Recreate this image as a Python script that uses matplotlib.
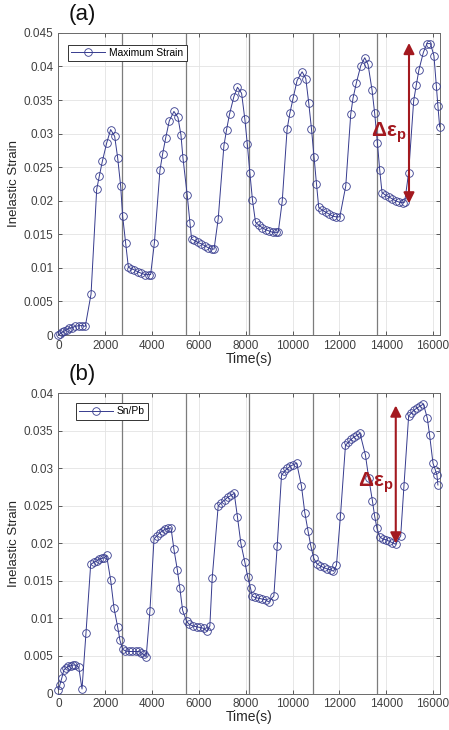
import matplotlib
matplotlib.use("Agg")
import matplotlib.pyplot as plt
from matplotlib.lines import Line2D
from matplotlib.ticker import FuncFormatter, MultipleLocator

plt.rcParams["font.family"] = ["Liberation Sans", "DejaVu Sans"]
plt.rcParams["mathtext.fontset"] = "custom"
plt.rcParams["mathtext.bf"] = "Liberation Sans:bold"

# (a) maximum strain
time_a = [0, 80, 160, 250, 350, 450, 580, 720, 870, 1020, 1150, 1395, 1637, 1750, 1880,
          2063, 2233, 2404, 2532, 2660, 2745, 2873, 2990, 3100, 3250, 3400, 3550, 3700,
          3850, 3940, 4100, 4340, 4454, 4580, 4737, 4936, 5107, 5235, 5320, 5504, 5620,
          5690, 5800, 5950, 6100, 6250, 6400, 6550, 6650, 6826, 7070, 7185, 7310, 7496,
          7650, 7825, 7966, 8070, 8180, 8290, 8420, 8550, 8700, 8850, 9000, 9150, 9300,
          9390, 9560, 9770, 9885, 10027, 10196, 10410, 10567, 10695, 10810, 10920, 11024,
          11120, 11270, 11420, 11570, 11720, 11870, 12020, 12274, 12487, 12586, 12730,
          12914, 13085, 13225, 13396, 13510, 13626, 13724, 13823, 13950, 14100, 14250,
          14400, 14550, 14700, 14790, 14960, 15175, 15290, 15400, 15590, 15743, 15890,
          16040, 16143, 16210, 16285]
strain_a = [0.0000, 0.0002, 0.0004, 0.0006, 0.0008, 0.0010, 0.0011, 0.0013, 0.0014, 0.0014,
            0.0013, 0.0061, 0.0217, 0.0237, 0.0259, 0.0286, 0.0306, 0.0296, 0.0264, 0.0222,
            0.0177, 0.0137, 0.0101, 0.0099, 0.0097, 0.0094, 0.0092, 0.0090, 0.0090, 0.0090,
            0.0137, 0.0246, 0.0270, 0.0293, 0.0319, 0.0333, 0.0324, 0.0298, 0.0264, 0.0208,
            0.0167, 0.0143, 0.0141, 0.0138, 0.0136, 0.0133, 0.0130, 0.0128, 0.0128, 0.0173,
            0.0282, 0.0306, 0.0329, 0.0355, 0.0369, 0.0360, 0.0321, 0.0284, 0.0241, 0.0201,
            0.0168, 0.0164, 0.0160, 0.0157, 0.0155, 0.0153, 0.0153, 0.0153, 0.0199, 0.0307,
            0.0330, 0.0353, 0.0379, 0.0392, 0.0382, 0.0345, 0.0307, 0.0265, 0.0225, 0.0190,
            0.0186, 0.0183, 0.0180, 0.0177, 0.0176, 0.0176, 0.0222, 0.0329, 0.0353, 0.0376,
            0.0401, 0.0413, 0.0403, 0.0365, 0.0330, 0.0286, 0.0246, 0.0212, 0.0209, 0.0206,
            0.0203, 0.0200, 0.0198, 0.0197, 0.0198, 0.0242, 0.0349, 0.0373, 0.0395, 0.0421,
            0.0434, 0.0434, 0.0416, 0.0371, 0.0341, 0.0310]

# (b) Sn/Pb
time_b = [0, 60, 150, 230, 320, 420, 520, 620, 720, 870, 1010, 1180, 1380, 1520, 1650,
          1750, 1850, 1950, 2060, 2234, 2376, 2530, 2630, 2740, 2850, 3000, 3150, 3300,
          3450, 3550, 3650, 3750, 3910, 4085, 4200, 4330, 4450, 4570, 4700, 4810, 4936,
          5080, 5190, 5306, 5477, 5600, 5750, 5900, 6050, 6200, 6350, 6470, 6570, 6826,
          6950, 7100, 7250, 7380, 7510, 7650, 7795, 7965, 8090, 8210, 8280, 8400, 8550,
          8700, 8850, 8980, 9203, 9345, 9530, 9650, 9780, 9900, 10030, 10180, 10380,
          10525, 10667, 10780, 10910, 11040, 11180, 11330, 11480, 11630, 11750, 11877,
          12048, 12262, 12390, 12510, 12630, 12750, 12880, 13114, 13255, 13412, 13510,
          13610, 13725, 13850, 13990, 14130, 14270, 14400, 14620, 14760, 14960, 15080,
          15200, 15330, 15450, 15590, 15758, 15857, 16000, 16100, 16170, 16210]
strain_b = [0.0005, 0.0011, 0.0021, 0.0031, 0.0034, 0.0036, 0.0037, 0.0038, 0.0038, 0.0035,
            0.0006, 0.0081, 0.0172, 0.0175, 0.0177, 0.0179, 0.0180, 0.0181, 0.0184, 0.0151,
            0.0114, 0.0089, 0.0071, 0.0059, 0.0057, 0.0056, 0.0056, 0.0056, 0.0056, 0.0054,
            0.0052, 0.0049, 0.0110, 0.0206, 0.0210, 0.0214, 0.0217, 0.0219, 0.0220, 0.0221,
            0.0192, 0.0165, 0.0140, 0.0111, 0.0096, 0.0092, 0.0090, 0.0089, 0.0088, 0.0087,
            0.0083, 0.0090, 0.0154, 0.0250, 0.0254, 0.0258, 0.0262, 0.0264, 0.0267, 0.0235,
            0.0200, 0.0175, 0.0155, 0.0140, 0.0130, 0.0128, 0.0127, 0.0126, 0.0125, 0.0122,
            0.0130, 0.0196, 0.0291, 0.0296, 0.0300, 0.0303, 0.0305, 0.0307, 0.0277, 0.0241,
            0.0216, 0.0197, 0.0180, 0.0173, 0.0170, 0.0168, 0.0166, 0.0165, 0.0163, 0.0171,
            0.0237, 0.0331, 0.0335, 0.0339, 0.0342, 0.0344, 0.0347, 0.0318, 0.0287, 0.0257,
            0.0236, 0.0220, 0.0209, 0.0206, 0.0205, 0.0203, 0.0201, 0.0199, 0.0210, 0.0277,
            0.0370, 0.0374, 0.0378, 0.0381, 0.0383, 0.0386, 0.0367, 0.0344, 0.0307, 0.0298,
            0.0291, 0.0278]

cycle_lines = [2720, 5440, 8160, 10880, 13600]

panels = [
    {"tag": "(a)", "t": time_a, "v": strain_a, "label": "Maximum Strain", "ymax": 0.045,
     "rect": [0.130, 0.541, 0.850, 0.414], "leg": (0.026, 0.960),
     "arrow": (14975, 0.0196, 0.0435), "dtext": (14870, 0.0296)},
    {"tag": "(b)", "t": time_b, "v": strain_b, "label": "Sn/Pb", "ymax": 0.04,
     "rect": [0.130, 0.050, 0.850, 0.411], "leg": (0.045, 0.967),
     "arrow": (14410, 0.0200, 0.0384), "dtext": (14320, 0.0276)},
]

LINE = "#363b8e"
RED = "#a3191f"
TICK = "#404040"

fig = plt.figure(figsize=(4.49, 7.30), dpi=100)

for p in panels:
    ax = fig.add_axes(p["rect"])
    ax.set_xlim(0, 16300)
    ax.set_ylim(0, p["ymax"])
    ax.xaxis.set_major_locator(MultipleLocator(2000))
    ax.yaxis.set_major_locator(MultipleLocator(0.005))
    ax.yaxis.set_major_formatter(FuncFormatter(lambda v, _: f"{v:g}"))
    ax.grid(True, color="#e3e3e3", linewidth=0.6)
    ax.set_axisbelow(True)
    for x in cycle_lines:
        ax.axvline(x, color="#7c7c7c", linewidth=0.9, zorder=1)

    ax.plot(p["t"], p["v"], color=LINE, linewidth=0.7, marker="o", markersize=5.5,
            markerfacecolor="none", markeredgecolor=LINE, markeredgewidth=0.6, zorder=3,
            clip_on=False)

    ax.tick_params(direction="in", top=True, right=True, labelsize=8.5, colors=TICK,
                   length=3, width=0.6)
    for s in ax.spines.values():
        s.set_color("#6a6a6a")
        s.set_linewidth(0.7)
    ax.set_ylabel("Inelastic Strain", fontsize=9.5, color="#262626", labelpad=3)
    ax.set_xlabel("Time(s)", fontsize=10, color="#262626", labelpad=0)

    handle = Line2D([], [], color=LINE, linewidth=0.7, marker="o", markersize=5.5,
                    markerfacecolor="none", markeredgewidth=0.6)
    leg = ax.legend([handle], [p["label"]], loc="upper left", bbox_to_anchor=p["leg"],
                    borderaxespad=0, fontsize=7.4, handlelength=3.3, fancybox=False,
                    framealpha=1, edgecolor="#333333", borderpad=0.3, handletextpad=0.4)
    leg.get_frame().set_linewidth(0.7)

    xa, y0, y1 = p["arrow"]
    ax.annotate("", xy=(xa, y1), xytext=(xa, y0),
                arrowprops=dict(arrowstyle="<|-|>", color=RED, lw=1.5,
                                mutation_scale=16, shrinkA=0, shrinkB=0), zorder=4)
    tx, ty = p["dtext"]
    ax.text(tx, ty, r"Δε$_\mathbf{p}$", color=RED, fontsize=15, fontweight="bold",
            ha="right", va="baseline", zorder=5)

    fig.text(p["rect"][0] + 0.022, p["rect"][1] + p["rect"][3] + 0.011, p["tag"],
             fontsize=16, color="#111111", ha="left", va="bottom")

fig.savefig("out.png", dpi=100)
